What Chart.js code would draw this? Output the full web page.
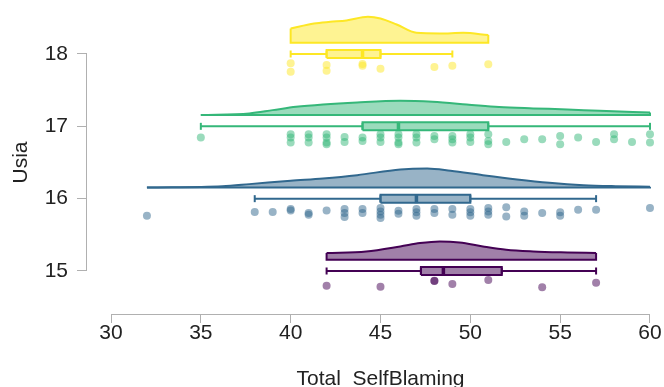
<!DOCTYPE html>
<html>
<head>
<meta charset="utf-8">
<script src="https://cdn.jsdelivr.net/npm/chart.js@4.4.1/dist/chart.umd.min.js"></script>
<style>
  body { margin: 0; background: #fff; }
</style>
</head>
<body>
<canvas id="rain" width="664" height="387"></canvas>
<script>
// groups (Usia) and colours
const usia = [15, 16, 17, 18];
const colors = ['#440154', '#31688E', '#35B779', '#FDE725'];
const xTicks = [30, 35, 40, 45, 50, 55, 60];
const yTicks = [15, 16, 17, 18];
const xTitle = 'Total  SelfBlaming';
const yTitle = 'Usia';

// box plot stats per group
const boxMin = [42, 38, 35, 40];
const boxQ1  = [47.25, 45, 44, 42];
const boxMed = [48.5, 47, 46, 44];
const boxQ3  = [51.75, 50, 51, 45];
const boxMax = [57, 57, 60, 49];

// half violin: x positions and density height (in y units)
const dens15X = [42, 44.2, 46.1, 47.2, 48.3, 49.4, 50.7, 52, 53.5, 55.4, 57];
const dens15H = [0.093, 0.115, 0.184, 0.231, 0.253, 0.239, 0.184, 0.138, 0.115, 0.101, 0.093];
const dens16X = [32, 36.2, 37.7, 40, 41.8, 43.7, 46.1, 47.6, 48.9, 50.7, 52.6, 54.4, 56.3, 58.1, 60];
const dens16H = [0, 0.018, 0.046, 0.093, 0.124, 0.170, 0.249, 0.263, 0.231, 0.170, 0.111, 0.065, 0.032, 0.018, 0.010];
const dens17X = [35, 37.7, 39, 40.3, 41.8, 43.7, 46.1, 47.9, 49.8, 51.6, 53.5, 55.4, 57.2, 60];
const dens17H = [0, 0.024, 0.069, 0.115, 0.148, 0.176, 0.198, 0.184, 0.148, 0.111, 0.093, 0.079, 0.059, 0.037];
const dens18X = [40, 41.3, 42.2, 43.1, 44.3, 45, 45.9, 47, 48.3, 49.6, 51];
const dens18H = [0.198, 0.267, 0.290, 0.308, 0.359, 0.336, 0.253, 0.138, 0.129, 0.138, 0.106];

// raw points (x = Total SelfBlaming, y = jittered Usia)
const pts15X = [42, 45, 48, 48, 49, 51, 54, 57];
const pts15Y = [14.797, 14.783, 14.866, 14.860, 14.820, 14.876, 14.775, 14.838];
const pts16X = [32, 38, 39, 40, 40, 41, 41, 42, 43, 43, 43, 44, 44, 45, 45, 45, 45, 46, 46, 47, 47, 47,
  48, 48, 49, 49, 50, 50, 50, 51, 51, 51, 52, 52, 53, 53, 54, 55, 55, 56, 57, 60];
const pts16Y = [15.765, 15.816, 15.816, 15.858, 15.838, 15.802, 15.779, 15.838, 15.858, 15.802, 15.747,
  15.858, 15.802, 15.871, 15.824, 15.779, 15.733, 15.834, 15.793, 15.858, 15.811, 15.765,
  15.858, 15.802, 15.858, 15.779, 15.858, 15.811, 15.765, 15.871, 15.824, 15.779, 15.880, 15.755,
  15.824, 15.765, 15.802, 15.811, 15.765, 15.848, 15.848, 15.871];
const pts17X = [35, 40, 40, 40, 41, 41, 41, 42, 42, 42, 42, 43, 43, 44, 44, 45, 45, 45, 46, 46, 46, 46,
  47, 47, 47, 48, 48, 49, 49, 49, 50, 50, 50, 51, 51, 51, 52, 53, 54, 55, 55, 56, 57, 58, 58, 59, 60, 60];
const pts17Y = [16.844, 16.889, 16.844, 16.775, 16.889, 16.844, 16.775, 16.889, 16.844, 16.775, 16.751,
  16.852, 16.783, 16.844, 16.797, 16.889, 16.844, 16.783, 16.889, 16.844, 16.775, 16.751,
  16.889, 16.844, 16.775, 16.866, 16.820, 16.866, 16.820, 16.775, 16.889, 16.844, 16.783,
  16.889, 16.797, 16.751, 16.783, 16.820, 16.820, 16.866, 16.751, 16.844, 16.783, 16.889, 16.820,
  16.783, 16.889, 16.775];
const pts18X = [40, 40, 42, 42, 44, 44, 45, 48, 49, 51];
const pts18Y = [17.871, 17.755, 17.848, 17.769, 17.862, 17.838, 17.797, 17.820, 17.838, 17.858];

const densX = [dens15X, dens16X, dens17X, dens18X];
const densH = [dens15H, dens16H, dens17H, dens18H];
const ptsX = [pts15X, pts16X, pts17X, pts18X];
const ptsY = [pts15Y, pts16Y, pts17Y, pts18Y];

function alpha(hex, a) {
  const n = parseInt(hex.slice(1), 16);
  return 'rgba(' + (n >> 16) + ',' + ((n >> 8) & 255) + ',' + (n & 255) + ',' + a + ')';
}

const VIOLIN_OFF = 0.155; // violin baseline above group
const BOX_HALF = 0.055;   // half height of box

let datasets = [];
for (let g = 0; g < usia.length; g++) {
  const y0 = usia[g];
  const base = y0 + VIOLIN_OFF;
  const col = colors[g];
  const xs = densX[g], hs = densH[g];
  const last = xs.length - 1;

  // violin top curve
  datasets.push({
    data: xs.map((x, i) => ({ x: x, y: base + hs[i] })),
    showLine: true, fill: { value: base },
    backgroundColor: alpha(col, 0.5), borderColor: col, borderWidth: 2,
    pointRadius: 0, cubicInterpolationMode: 'monotone', order: 5
  });
  // violin sides + baseline
  datasets.push({
    data: [{ x: xs[0], y: base + hs[0] }, { x: xs[0], y: base }, { x: xs[last], y: base }, { x: xs[last], y: base + hs[last] }],
    showLine: true, fill: false, borderColor: col, borderWidth: 2, pointRadius: 0, order: 5
  });
  // box
  datasets.push({
    data: [
      { x: boxQ1[g], y: y0 - BOX_HALF }, { x: boxQ3[g], y: y0 - BOX_HALF },
      { x: boxQ3[g], y: y0 + BOX_HALF }, { x: boxQ1[g], y: y0 + BOX_HALF },
      { x: boxQ1[g], y: y0 - BOX_HALF }
    ],
    showLine: true, fill: 'shape', backgroundColor: alpha(col, 0.5),
    borderColor: col, borderWidth: 2, pointRadius: 0, order: 3
  });
  // whiskers with end caps
  datasets.push({
    data: [{ x: boxMin[g], y: y0 }, { x: boxQ1[g], y: y0 }],
    showLine: true, borderColor: col, borderWidth: 2,
    pointStyle: 'line', rotation: 90, pointRadius: 3.5, pointBorderColor: col, pointBorderWidth: 2, order: 3
  });
  datasets.push({
    data: [{ x: boxQ3[g], y: y0 }, { x: boxMax[g], y: y0 }],
    showLine: true, borderColor: col, borderWidth: 2,
    pointStyle: 'line', rotation: 90, pointRadius: 3.5, pointBorderColor: col, pointBorderWidth: 2, order: 3
  });
  // median
  datasets.push({
    data: [{ x: boxMed[g], y: y0 }],
    pointStyle: 'line', rotation: 90, pointRadius: 4.5,
    pointBorderColor: col, pointBorderWidth: 3.5, order: 2
  });
  // raw data points
  datasets.push({
    data: ptsX[g].map((x, i) => ({ x: x, y: ptsY[g][i] })),
    pointRadius: 4, pointBackgroundColor: alpha(col, 0.5), pointBorderWidth: 0, order: 1
  });
}

// R style axes: lines only from first to last tick, titles centred on that span
const axisLines = {
  id: 'axisLines',
  afterDraw(chart) {
    const ctx = chart.ctx, a = chart.chartArea;
    const sx = chart.scales.x, sy = chart.scales.y;
    const x0 = sx.getPixelForValue(xTicks[0]), x1 = sx.getPixelForValue(xTicks[xTicks.length - 1]);
    const y0 = sy.getPixelForValue(yTicks[0]), y1 = sy.getPixelForValue(yTicks[yTicks.length - 1]);
    ctx.save();
    ctx.strokeStyle = '#b0b0b0';
    ctx.lineWidth = 1;
    ctx.beginPath();
    ctx.moveTo(x0, a.bottom + 0.5);
    ctx.lineTo(x1, a.bottom + 0.5);
    ctx.moveTo(a.left - 0.5, y0);
    ctx.lineTo(a.left - 0.5, y1);
    ctx.stroke();

    ctx.fillStyle = '#222';
    ctx.font = "21px 'Liberation Sans', Arial, sans-serif";
    ctx.textAlign = 'center';
    ctx.textBaseline = 'middle';
    ctx.fillText(xTitle, (x0 + x1) / 2, a.bottom + 65);
    ctx.translate(a.left - 66, (y0 + y1) / 2);
    ctx.rotate(-Math.PI / 2);
    ctx.fillText(yTitle, 0, 0);
    ctx.restore();
  }
};

Chart.defaults.font.family = "'Liberation Sans', Arial, sans-serif";

new Chart(document.getElementById('rain'), {
  type: 'scatter',
  data: { datasets: datasets },
  plugins: [axisLines],
  options: {
    responsive: false,
    animation: false,
    devicePixelRatio: 1,
    layout: { autoPadding: false, padding: { top: 3, left: 0, right: 0, bottom: 0 } },
    plugins: { legend: { display: false }, tooltip: { enabled: false } },
    scales: {
      x: {
        type: 'linear', min: 28.664, max: 60.78,
        afterBuildTicks: s => { s.ticks = xTicks.map(v => ({ value: v })); },
        afterFit: s => { s.height = 73; s.paddingLeft = 0; s.paddingRight = 0; },
        grid: { drawOnChartArea: false, drawTicks: true, tickLength: 9, color: '#b0b0b0' },
        border: { display: false },
        ticks: { color: '#222', font: { size: 21, lineHeight: 1 }, padding: 0, maxRotation: 0, autoSkip: false },
        title: { display: false }
      },
      y: {
        type: 'linear', min: 14.4055, max: 18.705,
        afterBuildTicks: s => { s.ticks = yTicks.map(v => ({ value: v })); },
        afterFit: s => { s.width = 87; s.paddingTop = 0; s.paddingBottom = 0; },
        grid: { drawOnChartArea: false, drawTicks: true, tickLength: 10, color: '#b0b0b0' },
        border: { display: false },
        ticks: { color: '#222', font: { size: 21 }, padding: 9, autoSkip: false },
        title: { display: false }
      }
    }
  }
});
</script>
</body>
</html>
